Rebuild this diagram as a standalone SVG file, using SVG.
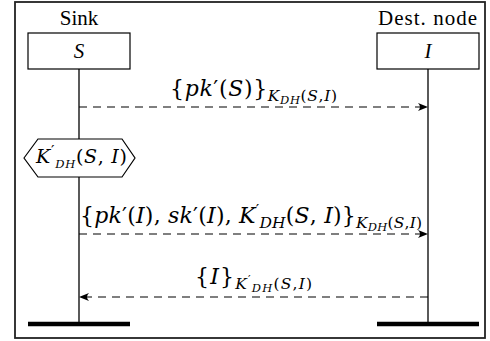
<svg xmlns="http://www.w3.org/2000/svg" width="490" height="341" viewBox="0 0 490 341">
<style>
.t{font-family:"Liberation Serif","DejaVu Serif",serif;font-size:21px;fill:#000}
.m{font-family:"DejaVu Serif","Liberation Serif",serif;font-size:22px;fill:#000}
.i{font-style:italic}
.s{font-size:15.5px}
.ss{font-size:11.5px}
.box{fill:#fff;stroke:#000;stroke-width:1.2}
.life{stroke:#000;stroke-width:1.3;fill:none}
.msg{stroke:#000;stroke-width:1.2;fill:none;stroke-dasharray:8 6}
.bar{stroke:#000;stroke-width:4.5}
</style>
<defs>
<marker id="ah" markerWidth="12" markerHeight="10" viewBox="-10 -5 12 10" refX="0" refY="0" orient="auto" markerUnits="userSpaceOnUse">
<path d="M0,0 L-10,-4 Q-6,0 -10,4 Z" fill="#000"/>
</marker>
</defs>
<rect x="15" y="2" width="470" height="336" fill="#fff" stroke="#222" stroke-width="1.8"/>
<g id="sink">
<text class="t" x="79" y="25" text-anchor="middle">Sink</text>
<rect class="box" x="28" y="33" width="102" height="36"/>
<text class="t i" x="79" y="58" text-anchor="middle">S</text>
<line class="life" x1="79" y1="69" x2="79" y2="324"/>
<line class="bar" x1="28" y1="324" x2="130" y2="324"/>
</g>
<g id="dest">
<text class="t" x="378" y="25" textLength="99" lengthAdjust="spacing">Dest. node</text>
<rect class="box" x="377" y="33" width="102" height="36"/>
<text class="t i" x="428" y="58" text-anchor="middle">I</text>
<line class="life" x1="428" y1="69" x2="428" y2="324"/>
<line class="bar" x1="377" y1="324" x2="479" y2="324"/>
</g>
<g id="keycalc">
<polygon class="box" points="24,158 38,139 122,139 135,158 122,177 38,177"/>
<text class="m" x="36" y="163" style="font-size:19px" textLength="91" lengthAdjust="spacing"><tspan class="i">K</tspan><tspan class="s" dy="-7">′</tspan><tspan class="ss i" dy="12">DH</tspan><tspan dy="-5">(</tspan><tspan class="i">S</tspan>, <tspan class="i">I</tspan>)</text>
</g>
<g id="connectors">
<line class="msg" x1="79" y1="107" x2="428" y2="107" marker-end="url(#ah)"/>
<line class="msg" x1="79" y1="234" x2="428" y2="234" marker-end="url(#ah)"/>
<line class="msg" x1="428" y1="297" x2="79" y2="297" marker-end="url(#ah)"/>
</g>
<g id="labels">
<text class="m" x="170" y="96" textLength="167" lengthAdjust="spacing">{<tspan class="i">pk</tspan>′(<tspan class="i">S</tspan>)}<tspan class="s i" dy="5">K</tspan><tspan class="ss i" dy="3">DH</tspan><tspan class="s" dy="-3">(</tspan><tspan class="s i">S</tspan><tspan class="s">,</tspan><tspan class="s i">I</tspan><tspan class="s">)</tspan></text>
<text class="m" x="80" y="223" textLength="342" lengthAdjust="spacing">{<tspan class="i">pk</tspan>′(<tspan class="i">I</tspan>), <tspan class="i">sk</tspan>′(<tspan class="i">I</tspan>), <tspan class="i">K</tspan><tspan class="s" dy="-8">′</tspan><tspan class="s i" dy="13">DH</tspan><tspan dy="-5">(</tspan><tspan class="i">S</tspan>, <tspan class="i">I</tspan>)}<tspan class="s i" dy="5">K</tspan><tspan class="ss i" dy="3">DH</tspan><tspan class="s" dy="-3">(</tspan><tspan class="s i">S</tspan><tspan class="s">,</tspan><tspan class="s i">I</tspan><tspan class="s">)</tspan></text>
<text class="m" x="195" y="284" textLength="117" lengthAdjust="spacing">{<tspan class="i">I</tspan>}<tspan class="s i" dy="5">K</tspan><tspan class="ss" dy="-6">′</tspan><tspan class="ss i" dy="9">DH</tspan><tspan class="s" dy="-3">(</tspan><tspan class="s i">S</tspan><tspan class="s">,</tspan><tspan class="s i">I</tspan><tspan class="s">)</tspan></text>
</g>
</svg>
